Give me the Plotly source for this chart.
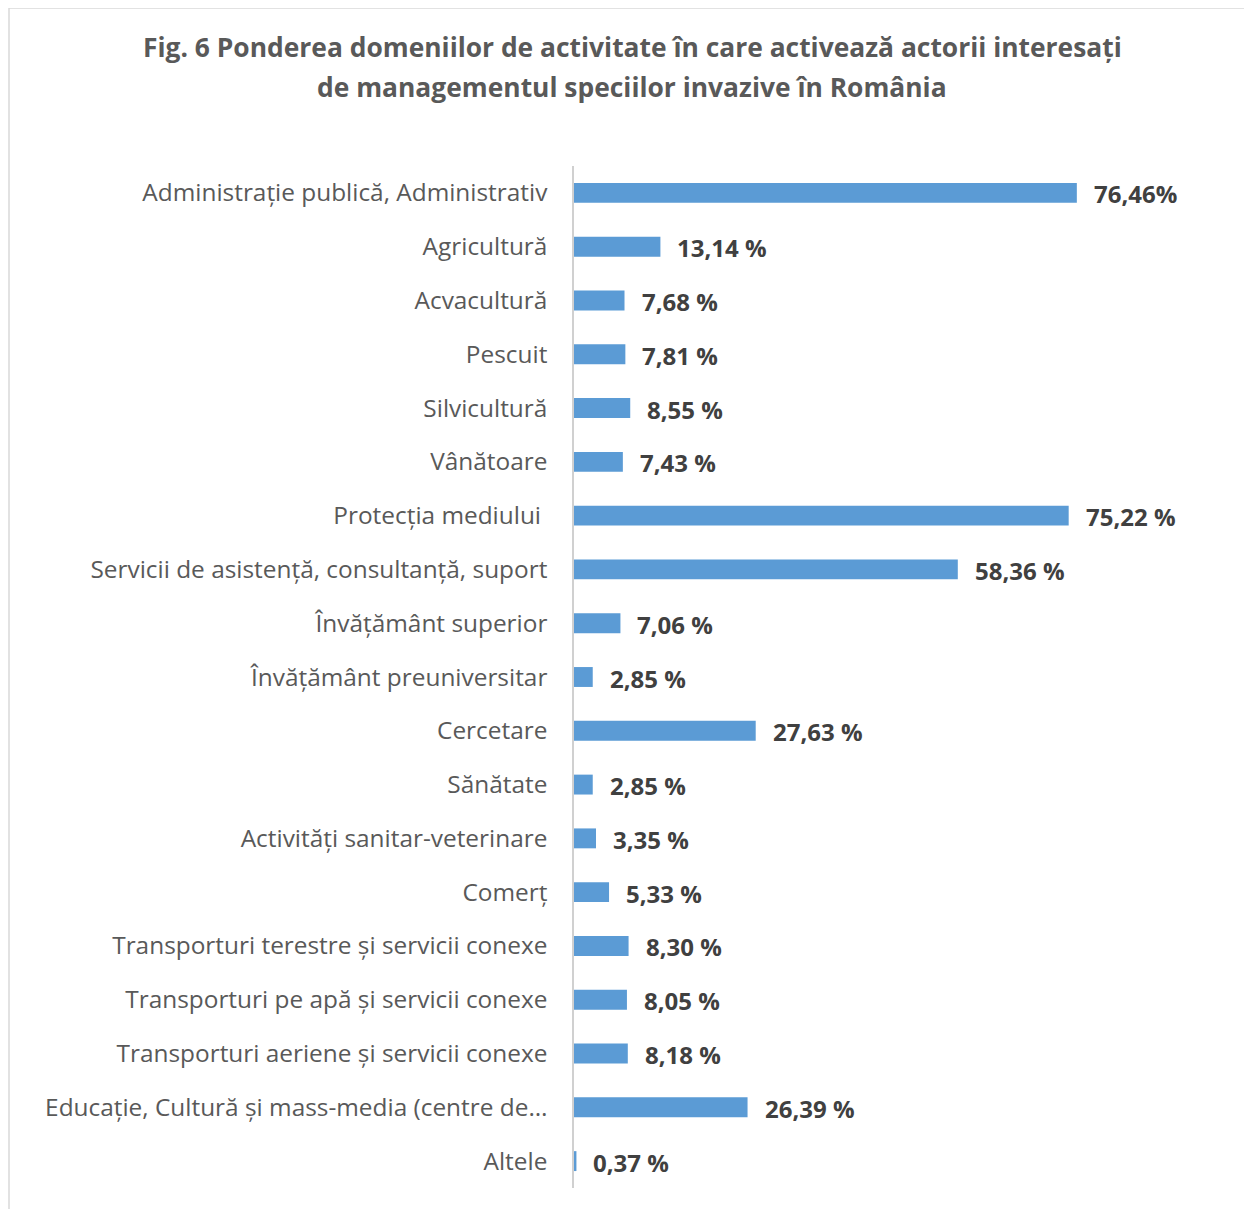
import plotly.graph_objects as go

categories = [
    "Administrație publică, Administrativ",
    "Agricultură",
    "Acvacultură",
    "Pescuit",
    "Silvicultură",
    "Vânătoare",
    "Protecția mediului ",
    "Servicii de asistență, consultanță, suport",
    "Învățământ superior",
    "Învățământ preuniversitar",
    "Cercetare",
    "Sănătate",
    "Activități sanitar-veterinare",
    "Comerț",
    "Transporturi terestre și servicii conexe",
    "Transporturi pe apă și servicii conexe",
    "Transporturi aeriene și servicii conexe",
    "Educație, Cultură și mass-media (centre de…",
    "Altele",
]
values = [76.46, 13.14, 7.68, 7.81, 8.55, 7.43, 75.22, 58.36, 7.06, 2.85,
          27.63, 2.85, 3.35, 5.33, 8.30, 8.05, 8.18, 26.39, 0.37]
labels = ["76,46%", "13,14 %", "7,68 %", "7,81 %", "8,55 %", "7,43 %", "75,22 %",
          "58,36 %", "7,06 %", "2,85 %", "27,63 %", "2,85 %", "3,35 %", "5,33 %",
          "8,30 %", "8,05 %", "8,18 %", "26,39 %", "0,37 %"]

title_lines = ["Fig. 6 Ponderea domeniilor de activitate în care activează actorii interesați",
               "de managementul speciilor invazive în România"]

FONT = "Open Sans"
W, H = 1244, 1201
L, R, T, B = 566, 119, 158, 21
PW, PH = W - L - R, H - T - B
OFF = 8  # page offset of the plot div


def px(xp):
    return (xp - OFF - L) / PW


def py(yp):
    return (H - B - (yp - OFF)) / PH


fig = go.Figure()
fig.add_trace(go.Bar(
    y=categories, x=values, orientation="h",
    marker=dict(color="#5B9BD5", line=dict(width=0)),
    hoverinfo="skip",
))

for c, v, t in zip(categories, values, labels):
    fig.add_annotation(x=v, y=c, text=t, showarrow=False, xanchor="left",
                       xshift=15, yshift=-1,
                       font=dict(family=FONT, size=24, color="#404040", weight="bold"))

for line, yc in zip(title_lines, [47, 87]):
    fig.add_annotation(xref="paper", yref="paper", x=px(632), y=py(yc),
                       xanchor="center", yanchor="middle", showarrow=False,
                       text=line,
                       font=dict(family=FONT, size=26.4, color="#595959", weight="bold"))

fig.update_layout(
    width=W, height=H,
    paper_bgcolor="white", plot_bgcolor="white",
    margin=dict(l=L, r=R, t=T, b=B, autoexpand=False),
    bargap=0.63,
    showlegend=False,
    xaxis=dict(range=[0, 85], visible=False, showgrid=False, zeroline=False),
    yaxis=dict(autorange="reversed", showgrid=False, zeroline=False,
               showline=True, linecolor="#d0d0d0", linewidth=1.5,
               ticks="", ticklabelstandoff=20,
               tickfont=dict(family=FONT, size=24.4, color="#595959")),
    shapes=[dict(type="rect", xref="paper", yref="paper",
                 x0=px(9), x1=px(1250), y0=py(1214), y1=py(8),
                 line=dict(color="#d9d9d9", width=1.5), fillcolor="rgba(0,0,0,0)")],
)

fig.write_html("out.html")
